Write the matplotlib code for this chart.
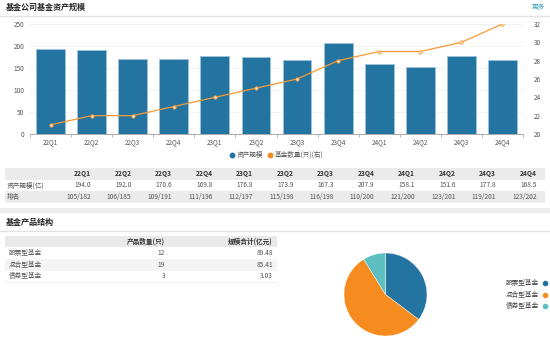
import matplotlib
matplotlib.use("Agg")
import matplotlib.pyplot as plt
from matplotlib.patches import Rectangle
from matplotlib.lines import Line2D

plt.rcParams['font.family'] = ['Noto Sans CJK SC', 'DejaVu Sans']

quarters = ["22Q1", "22Q2", "22Q3", "22Q4", "23Q1", "23Q2", "23Q3", "23Q4",
            "24Q1", "24Q2", "24Q3", "24Q4"]
asset_scale = [194.0, 192.0, 170.6, 169.8, 176.8, 173.9, 167.3, 207.9,
               158.1, 151.6, 177.8, 168.5]
fund_count = [21, 22, 22, 23, 24, 25, 26, 28, 29, 29, 30, 32]
ranks = ["105/182", "106/185", "109/191", "111/196", "112/197", "115/198",
         "116/198", "110/200", "121/200", "123/201", "119/201", "123/202"]

prod_types = ["股票型基金", "混合型基金", "债券型基金"]
prod_counts = [12, 19, 3]
prod_scale = ["89.48", "85.41", "3.03"]

W, H = 550, 341
BLUE = "#2474a1"
ORANGE = "#f68b1f"
LINE_OR = "#f59a35"
TEAL = "#5dbfc0"

fig = plt.figure(figsize=(W / 100, H / 100), dpi=100)
fig.patch.set_facecolor("white")


def fx(x):
    return x / W


def fy(y):
    return 1 - y / H


def rect(x0, y0, x1, y1, color):
    fig.add_artist(Rectangle((fx(x0), fy(y1)), fx(x1) - fx(x0), fy(y0) - fy(y1),
                             transform=fig.transFigure, facecolor=color,
                             edgecolor="none", zorder=0))


def hline(x0, x1, y, color, lw=0.8):
    fig.add_artist(Line2D([fx(x0), fx(x1)], [fy(y), fy(y)], transform=fig.transFigure,
                          color=color, lw=lw, zorder=1))


def txt(x, y, s, size=4.8, ha="left", color="#555555", weight="normal"):
    fig.text(fx(x), fy(y), s, fontsize=size, ha=ha, va="center", color=color,
             fontweight=weight)


# ---- top section title ----
txt(6, 7, "基金公司基金资产规模", size=5.8, color="#222222", weight="bold")
txt(545, 7, "更多", size=4.8, ha="right", color="#3a9fc4")
hline(0, W, 15.5, "#e2e2e2", lw=1.0)

# ---- main chart ----
ax_l, ax_r, ax_t, ax_b = 30, 523, 24, 134
ax = fig.add_axes([fx(ax_l), fy(ax_b), fx(ax_r) - fx(ax_l), fy(ax_t) - fy(ax_b)])
x = list(range(len(quarters)))
ax.bar(x, asset_scale, width=0.7, color=BLUE, edgecolor="#9cc3da", linewidth=0.6, zorder=2)
ax.set_xlim(-0.5, len(quarters) - 0.5)
ax.set_ylim(0, 250)
ax.set_yticks([0, 50, 100, 150, 200, 250])
ax.yaxis.grid(True, color="#f0f0f0", lw=0.6)
ax.set_axisbelow(True)
for s in ["top", "right", "left"]:
    ax.spines[s].set_visible(False)
ax.spines["bottom"].set_color("#aaaaaa")
ax.spines["bottom"].set_linewidth(0.7)
ax.set_xticks(x)
ax.set_xticklabels(quarters)
ax.set_xticks([i - 0.5 for i in range(len(quarters) + 1)], minor=True)
ax.tick_params(axis="x", which="major", length=0, labelsize=4.6, colors="#555555", pad=3)
ax.tick_params(axis="x", which="minor", length=2.5, color="#aaaaaa", width=0.6)
ax.tick_params(axis="y", length=0, labelsize=4.6, colors="#555555", pad=4)

ax2 = ax.twinx()
ax2.plot(x, fund_count, color=LINE_OR, lw=0.9, marker="o", markersize=2.4,
         markerfacecolor="#fde3c4", markeredgecolor=LINE_OR, markeredgewidth=0.6, zorder=3)
ax2.set_ylim(20, 32)
ax2.set_yticks([20, 22, 24, 26, 28, 30, 32])
for s in ["top", "right", "left", "bottom"]:
    ax2.spines[s].set_visible(False)
ax2.tick_params(axis="y", length=0, labelsize=4.6, colors="#555555", pad=8)

# legend
fig.add_artist(Line2D([fx(232)], [fy(155)], transform=fig.transFigure, marker="o",
                      markersize=3.2, color=BLUE, lw=0))
txt(237, 155, "资产规模", size=4.8)
fig.add_artist(Line2D([fx(270)], [fy(155)], transform=fig.transFigure, marker="o",
                      markersize=3.2, color=ORANGE, lw=0))
txt(275, 155, "基金数量(只)(右)", size=4.8)

# ---- data table ----
rect(5, 168, 545, 179.5, "#ebebeb")
rect(5, 191, 545, 202.5, "#ebebeb")
col_right = [91 + 40.5 * i for i in range(len(quarters))]
for i, q in enumerate(quarters):
    txt(col_right[i], 173.8, q, ha="right", color="#333333", weight="bold")
    txt(col_right[i], 185.3, f"{asset_scale[i]:.1f}", ha="right")
    txt(col_right[i], 196.8, ranks[i], ha="right")
txt(7, 185.3, "资产规模(亿)")
txt(7, 196.8, "排名")

# section separator
rect(0, 207.5, W, 213, "#eeeeee")

# ---- second section ----
txt(6, 222, "基金产品结构", size=5.8, color="#222222", weight="bold")
hline(0, W, 231, "#e2e2e2", lw=1.0)

rect(5, 236, 277, 247, "#e9e9e9")
rect(5, 259, 277, 270.5, "#f4f4f4")
hline(5, 277, 282, "#f0f0f0", lw=0.6)
txt(165, 241.5, "产品数量(只)", ha="right", color="#333333", weight="bold")
txt(273, 241.5, "规模合计(亿元)", ha="right", color="#333333", weight="bold")
row_y = [253, 264.7, 276.3]
for i, name in enumerate(prod_types):
    txt(9, row_y[i], name)
    txt(165, row_y[i], str(prod_counts[i]), ha="right")
    txt(273, row_y[i], prod_scale[i], ha="right")

# pie
cx, cy, r = 385.5, 294.5, 41.5
axp = fig.add_axes([fx(cx - r), fy(cy + r), fx(2 * r), (2 * r) / H])
axp.pie(prod_counts, colors=[BLUE, ORANGE, TEAL], startangle=90, counterclock=False,
        radius=1.0, wedgeprops=dict(edgecolor="white", linewidth=0.3))
axp.set_xlim(-1, 1)
axp.set_ylim(-1, 1)
axp.set_aspect("auto")
axp.axis("off")

# pie legend
leg_y = [283, 294.5, 306]
for i, name in enumerate(prod_types):
    txt(539, leg_y[i], name, ha="right", color="#444444")
    fig.add_artist(Line2D([fx(544.5)], [fy(leg_y[i])], transform=fig.transFigure,
                          marker="o", markersize=3.0, color=[BLUE, ORANGE, TEAL][i], lw=0))

fig.savefig("out.png", dpi=100, facecolor="white")
